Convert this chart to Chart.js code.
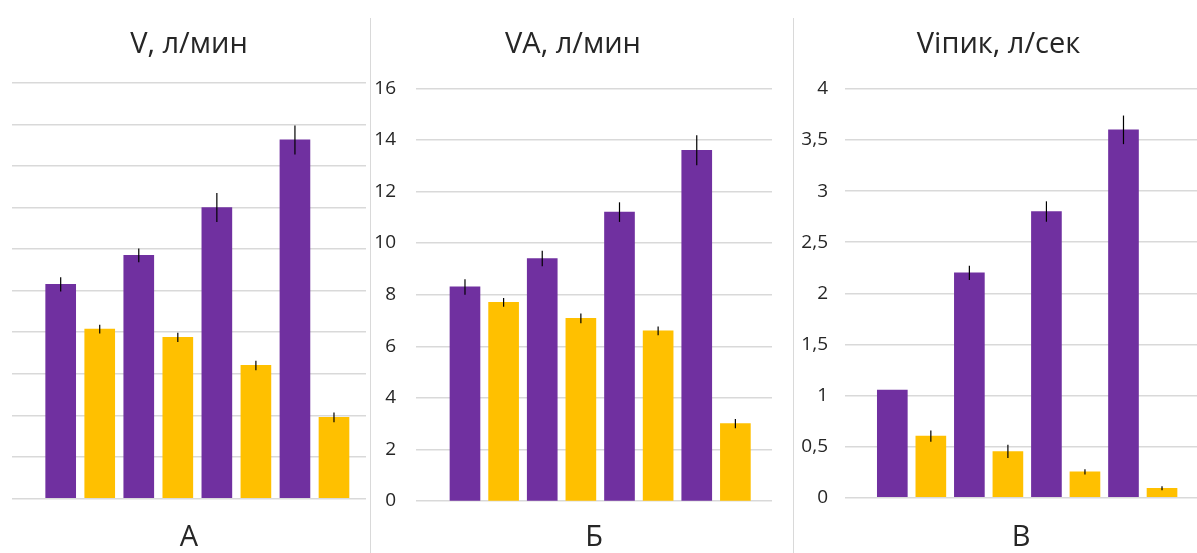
<!DOCTYPE html>
<html>
<head>
<meta charset="utf-8">
<script src="https://cdn.jsdelivr.net/npm/chart.js@4.4.1/dist/chart.umd.min.js"></script>
<style>
    body { margin: 0; background: #fff; }
    #wrap { position: relative; width: 1197px; height: 553px; overflow: hidden; }
    .panel { position: absolute; top: 0; }
    .sep { position: absolute; top: 18px; width: 1px; height: 535px; background: #d9d9d9; }
</style>
</head>
<body>
<div id="wrap">
    <canvas class="panel" id="chartV" width="370" height="553" style="left:0"></canvas>
    <div class="sep" style="left:370px"></div>
    <canvas class="panel" id="chartVA" width="422" height="553" style="left:371px"></canvas>
    <div class="sep" style="left:793px"></div>
    <canvas class="panel" id="chartVpeak" width="403" height="553" style="left:794px"></canvas>
</div>
<script>
// --- Data ---
const panelTitles = ['V, л/мин', 'VA, л/мин', 'Viпик, л/сек'];
const panelLetters = ['А', 'Б', 'В'];

// V, l/min
const vPurple = [10.3, 11.7, 14.0, 17.25];
const vPurpleErr = [0.34, 0.33, 0.7, 0.7];
const vYellow = [8.15, 7.75, 6.4, 3.9];
const vYellowErr = [0.21, 0.22, 0.23, 0.23];

// VA, l/min
const vaPurple = [8.3, 9.4, 11.2, 13.6];
const vaPurpleErr = [0.3, 0.3, 0.38, 0.58];
const vaYellow = [7.7, 7.08, 6.6, 3.0];
const vaYellowErr = [0.17, 0.19, 0.17, 0.18];

// Vi peak, l/sec
const vpPurple = [1.05, 2.2, 2.8, 3.6];
const vpPurpleErr = [0, 0.07, 0.1, 0.14];
const vpYellow = [0.6, 0.45, 0.25, 0.09];
const vpYellowErr = [0.055, 0.065, 0.025, 0.02];

// y axis ranges
const vTicks = { max: 20, step: 2 };
const vaTicks = { max: 16, step: 2 };
const vpTicks = { max: 4, step: 0.5 };

const PURPLE = '#7030A0';
const GOLD = '#FFC000';
const FONT = "'Open Sans', 'Noto Sans', sans-serif";

// --- Error bars: thin black vertical lines, no caps ---
const errorBars = {
    id: 'errorBars',
    afterDatasetsDraw(chart) {
        const ctx = chart.ctx;
        const y = chart.scales.y;
        ctx.save();
        ctx.strokeStyle = '#000';
        ctx.lineWidth = 1.2;
        chart.data.datasets.forEach((ds, i) => {
            const meta = chart.getDatasetMeta(i);
            meta.data.forEach((bar, j) => {
                const e = ds.errors[j];
                if (!e) return;
                const v = ds.data[j].y;
                ctx.beginPath();
                ctx.moveTo(bar.x, y.getPixelForValue(v + e));
                ctx.lineTo(bar.x, y.getPixelForValue(v - e));
                ctx.stroke();
            });
        });
        ctx.restore();
    }
};

// purple bars sit at 1,3,5,7 and gold at 2,4,6,8
function toPoints(values, offset) {
    return values.map((v, i) => ({ x: i * 2 + offset, y: v }));
}

function makePanel(id, cfg) {
    const ctx = document.getElementById(id).getContext('2d');
    return new Chart(ctx, {
        type: 'bar',
        data: {
            datasets: [
                { data: toPoints(cfg.purple, 1), errors: cfg.purpleErr, backgroundColor: PURPLE },
                { data: toPoints(cfg.yellow, 2), errors: cfg.yellowErr, backgroundColor: GOLD }
            ]
        },
        options: {
            responsive: false,
            animation: false,
            devicePixelRatio: 1,
            layout: { padding: cfg.padding },
            datasets: { bar: { grouped: false, barThickness: 30 } },
            plugins: {
                legend: { display: false },
                tooltip: { enabled: false },
                title: {
                    display: true,
                    text: cfg.title,
                    color: '#262626',
                    font: { family: FONT, size: 29, weight: 'normal', lineHeight: 1.2 },
                    padding: { top: 27, bottom: cfg.titleGap }
                }
            },
            scales: {
                x: {
                    type: 'linear',
                    bounds: 'data',
                    offset: false,
                    min: cfg.xMin,
                    max: cfg.xMax,
                    grid: { display: false, drawTicks: false },
                    border: { display: false },
                    ticks: { display: false, includeBounds: false, stepSize: 100 },
                    title: {
                        display: true,
                        text: cfg.letter,
                        color: '#262626',
                        font: { family: FONT, size: 29, weight: 'normal', lineHeight: 1 },
                        padding: { top: cfg.letterGap, bottom: 1 }
                    }
                },
                y: {
                    min: 0,
                    max: cfg.ticks.max,
                    grid: { color: '#d9d9d9', lineWidth: 1.4, drawTicks: false },
                    border: { display: false },
                    ticks: {
                        display: cfg.showTicks,
                        stepSize: cfg.ticks.step,
                        padding: cfg.tickPad,
                        color: '#262626',
                        font: { family: FONT, size: 19 },
                        callback: v => String(v).replace('.', ',')
                    },
                    afterFit: s => { s.width = cfg.axisWidth; }
                }
            }
        },
        plugins: [errorBars]
    });
}

makePanel('chartV', {
    title: panelTitles[0], letter: panelLetters[0],
    purple: vPurple, purpleErr: vPurpleErr, yellow: vYellow, yellowErr: vYellowErr,
    ticks: vTicks, showTicks: false, tickPad: 0, axisWidth: 0,
    padding: { left: 12, right: 4, top: 0, bottom: 0 },
    titleGap: 21, letterGap: 24.6,
    xMin: -0.247, xMax: 8.82
});

makePanel('chartVA', {
    title: panelTitles[1], letter: panelLetters[1],
    purple: vaPurple, purpleErr: vaPurpleErr, yellow: vaYellow, yellowErr: vaYellowErr,
    ticks: vaTicks, showTicks: true, tickPad: 20, axisWidth: 42,
    padding: { left: 3, right: 21, top: 0, bottom: 0 },
    titleGap: 26.5, letterGap: 22,
    xMin: -0.268, xMax: 8.948
});

makePanel('chartVpeak', {
    title: panelTitles[2], letter: panelLetters[2],
    purple: vpPurple, purpleErr: vpPurpleErr, yellow: vpYellow, yellowErr: vpYellowErr,
    ticks: vpTicks, showTicks: true, tickPad: 17, axisWidth: 45,
    padding: { left: 6, right: 0, top: 0, bottom: 0 },
    titleGap: 27.2, letterGap: 25.6,
    xMin: -0.228, xMax: 8.908
});
</script>
</body>
</html>
